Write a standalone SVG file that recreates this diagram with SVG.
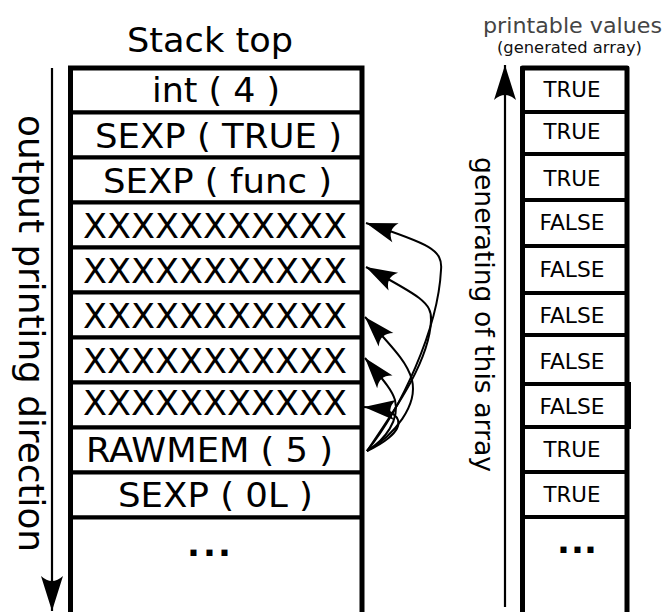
<svg xmlns="http://www.w3.org/2000/svg" width="665" height="612" viewBox="0 0 665 612">
<defs>
<style>
.cell{fill:#fff;stroke:#000;stroke-width:4}
.frame{fill:none;stroke:#000;stroke-width:5}
.t{font-family:"DejaVu Sans","Liberation Sans",sans-serif;font-size:33px;text-anchor:middle;fill:#000}
.s{font-size:20.5px}
.dots{font-family:"DejaVu Sans","Liberation Sans",sans-serif;font-size:34px;font-weight:bold;fill:#000}
.conn{fill:none;stroke:#000;stroke-width:2}
.axis{fill:none;stroke:#000;stroke-width:2.2}
</style>
<marker id="big" markerUnits="userSpaceOnUse" orient="auto" markerWidth="40" markerHeight="30" viewBox="-36 -15 40 30" refX="0" refY="0">
<path d="M0,0 L-35,-11 Q-25,0 -35,11 Z" fill="#000"/>
</marker>
<marker id="cv" markerUnits="userSpaceOnUse" orient="auto" markerWidth="36" markerHeight="26" viewBox="-33 -13 36 26" refX="0" refY="0">
<path d="M0,0 L-31,-10 Q-22,0 -31,10 Z" fill="#000"/>
</marker>
</defs>
<rect x="0" y="0" width="665" height="612" fill="#fff"/>

<text class="t" x="210" y="52" style="font-size:34px" textLength="166" lengthAdjust="spacingAndGlyphs">Stack top</text>

<g id="stack">
<g id="s1"><rect class="cell" x="70.5" y="68" width="291.5" height="44.5"/><text class="t" x="216" y="102" textLength="128" lengthAdjust="spacingAndGlyphs">int ( 4 )</text></g>
<g id="s2"><rect class="cell" x="70.5" y="112.5" width="291.5" height="45"/><text class="t" x="218.5" y="148" textLength="247" lengthAdjust="spacingAndGlyphs">SEXP ( TRUE )</text></g>
<g id="s3"><rect class="cell" x="70.5" y="157.5" width="291.5" height="45"/><text class="t" x="217.5" y="193" textLength="229" lengthAdjust="spacingAndGlyphs">SEXP ( func )</text></g>
<g id="s4"><rect class="cell" x="70.5" y="202.5" width="291.5" height="45"/><text class="t" x="215" y="238" textLength="264" lengthAdjust="spacingAndGlyphs">XXXXXXXXXXX</text></g>
<g id="s5"><rect class="cell" x="70.5" y="247.5" width="291.5" height="45"/><text class="t" x="215" y="283" textLength="264" lengthAdjust="spacingAndGlyphs">XXXXXXXXXXX</text></g>
<g id="s6"><rect class="cell" x="70.5" y="292.5" width="291.5" height="45"/><text class="t" x="215" y="328" textLength="264" lengthAdjust="spacingAndGlyphs">XXXXXXXXXXX</text></g>
<g id="s7"><rect class="cell" x="70.5" y="337.5" width="291.5" height="45"/><text class="t" x="215" y="373" textLength="264" lengthAdjust="spacingAndGlyphs">XXXXXXXXXXX</text></g>
<g id="s8"><rect class="cell" x="70.5" y="382.5" width="291.5" height="45"/><text class="t" x="215" y="415" textLength="264" lengthAdjust="spacingAndGlyphs">XXXXXXXXXXX</text></g>
<g id="s9"><rect class="cell" x="70.5" y="427.5" width="291.5" height="45"/><text class="t" x="209.5" y="462" textLength="247" lengthAdjust="spacingAndGlyphs">RAWMEM ( 5 )</text></g>
<g id="s10"><rect class="cell" x="70.5" y="472.5" width="291.5" height="45"/><text class="t" x="215.5" y="507" textLength="195" lengthAdjust="spacingAndGlyphs">SEXP ( 0L )</text></g>
<g id="s11"><rect class="cell" x="70.5" y="517.5" width="291.5" height="120"/><text class="dots" x="187 203 218" y="556">...</text></g>
<path class="frame" d="M70.5,640 V68 H362 V640"/>
</g>

<text class="t" x="572.5" y="33" style="font-size:20.5px;fill:#444" textLength="179" lengthAdjust="spacingAndGlyphs">printable values</text>
<text class="t" x="569.5" y="53" style="font-size:15.5px;fill:#111" textLength="145" lengthAdjust="spacingAndGlyphs">(generated array)</text>

<g id="values">
<g id="v1"><rect class="cell" x="522.5" y="68" width="104.5" height="44"/><text class="t s" x="572" y="97" textLength="57" lengthAdjust="spacingAndGlyphs">TRUE</text></g>
<g id="v2"><rect class="cell" x="522.5" y="112" width="104.5" height="42"/><text class="t s" x="572" y="139" textLength="57" lengthAdjust="spacingAndGlyphs">TRUE</text></g>
<g id="v3"><rect class="cell" x="522.5" y="154" width="104.5" height="46"/><text class="t s" x="572" y="186" textLength="57" lengthAdjust="spacingAndGlyphs">TRUE</text></g>
<g id="v4"><rect class="cell" x="522.5" y="200" width="104.5" height="46"/><text class="t s" x="572" y="230" textLength="65" lengthAdjust="spacingAndGlyphs">FALSE</text></g>
<g id="v5"><rect class="cell" x="522.5" y="246" width="104.5" height="47"/><text class="t s" x="572" y="277" textLength="65" lengthAdjust="spacingAndGlyphs">FALSE</text></g>
<g id="v6"><rect class="cell" x="522.5" y="293" width="104.5" height="42"/><text class="t s" x="572" y="323" textLength="65" lengthAdjust="spacingAndGlyphs">FALSE</text></g>
<g id="v7"><rect class="cell" x="522.5" y="335" width="104.5" height="49"/><text class="t s" x="572" y="369" textLength="65" lengthAdjust="spacingAndGlyphs">FALSE</text></g>
<g id="v8"><rect class="cell" x="522.5" y="384" width="106.5" height="43"/><text class="t s" x="572" y="414" textLength="65" lengthAdjust="spacingAndGlyphs">FALSE</text></g>
<g id="v9"><rect class="cell" x="522.5" y="427" width="104.5" height="45"/><text class="t s" x="572" y="457" textLength="57" lengthAdjust="spacingAndGlyphs">TRUE</text></g>
<g id="v10"><rect class="cell" x="522.5" y="472" width="104.5" height="45"/><text class="t s" x="572" y="502" textLength="57" lengthAdjust="spacingAndGlyphs">TRUE</text></g>
<g id="v11"><rect class="cell" x="522.5" y="517" width="104.5" height="120"/><text class="dots" x="557 571 584" y="553">...</text></g>
<path class="frame" d="M522.5,640 V68 H627 V640" stroke-linejoin="round"/>
</g>

<g id="axes">
<path class="axis" d="M52,68 V611" marker-end="url(#big)"/>
<text class="t" style="font-size:36px" transform="translate(18.5,333.5) rotate(90)" x="0" y="0" textLength="437" lengthAdjust="spacingAndGlyphs">output printing direction</text>
<path class="axis" d="M505,607 V65" marker-end="url(#big)"/>
<text class="t" style="font-size:26.5px" transform="translate(475,314.5) rotate(90)" x="0" y="0" textLength="315" lengthAdjust="spacingAndGlyphs">generating of this array</text>
</g>

<g id="connectors">
<path class="conn" d="M367,451 C400,410 438,330 441,270 C443,250 430,244 366,223" marker-end="url(#cv)"/>
<path class="conn" d="M367,451 C395,410 430,360 431,320 C432,303 420,296 366,267" marker-end="url(#cv)"/>
<path class="conn" d="M367,451 C395,435 418,405 412,380 C408,365 400,355 365,317" marker-end="url(#cv)"/>
<path class="conn" d="M367,451 C385,440 400,420 395,400 C392,390 385,382 365,358" marker-end="url(#cv)"/>
<path class="conn" d="M367,451 C380,445 402,432 398,420 C395,412 385,409 364,407" marker-end="url(#cv)"/>
</g>
</svg>
